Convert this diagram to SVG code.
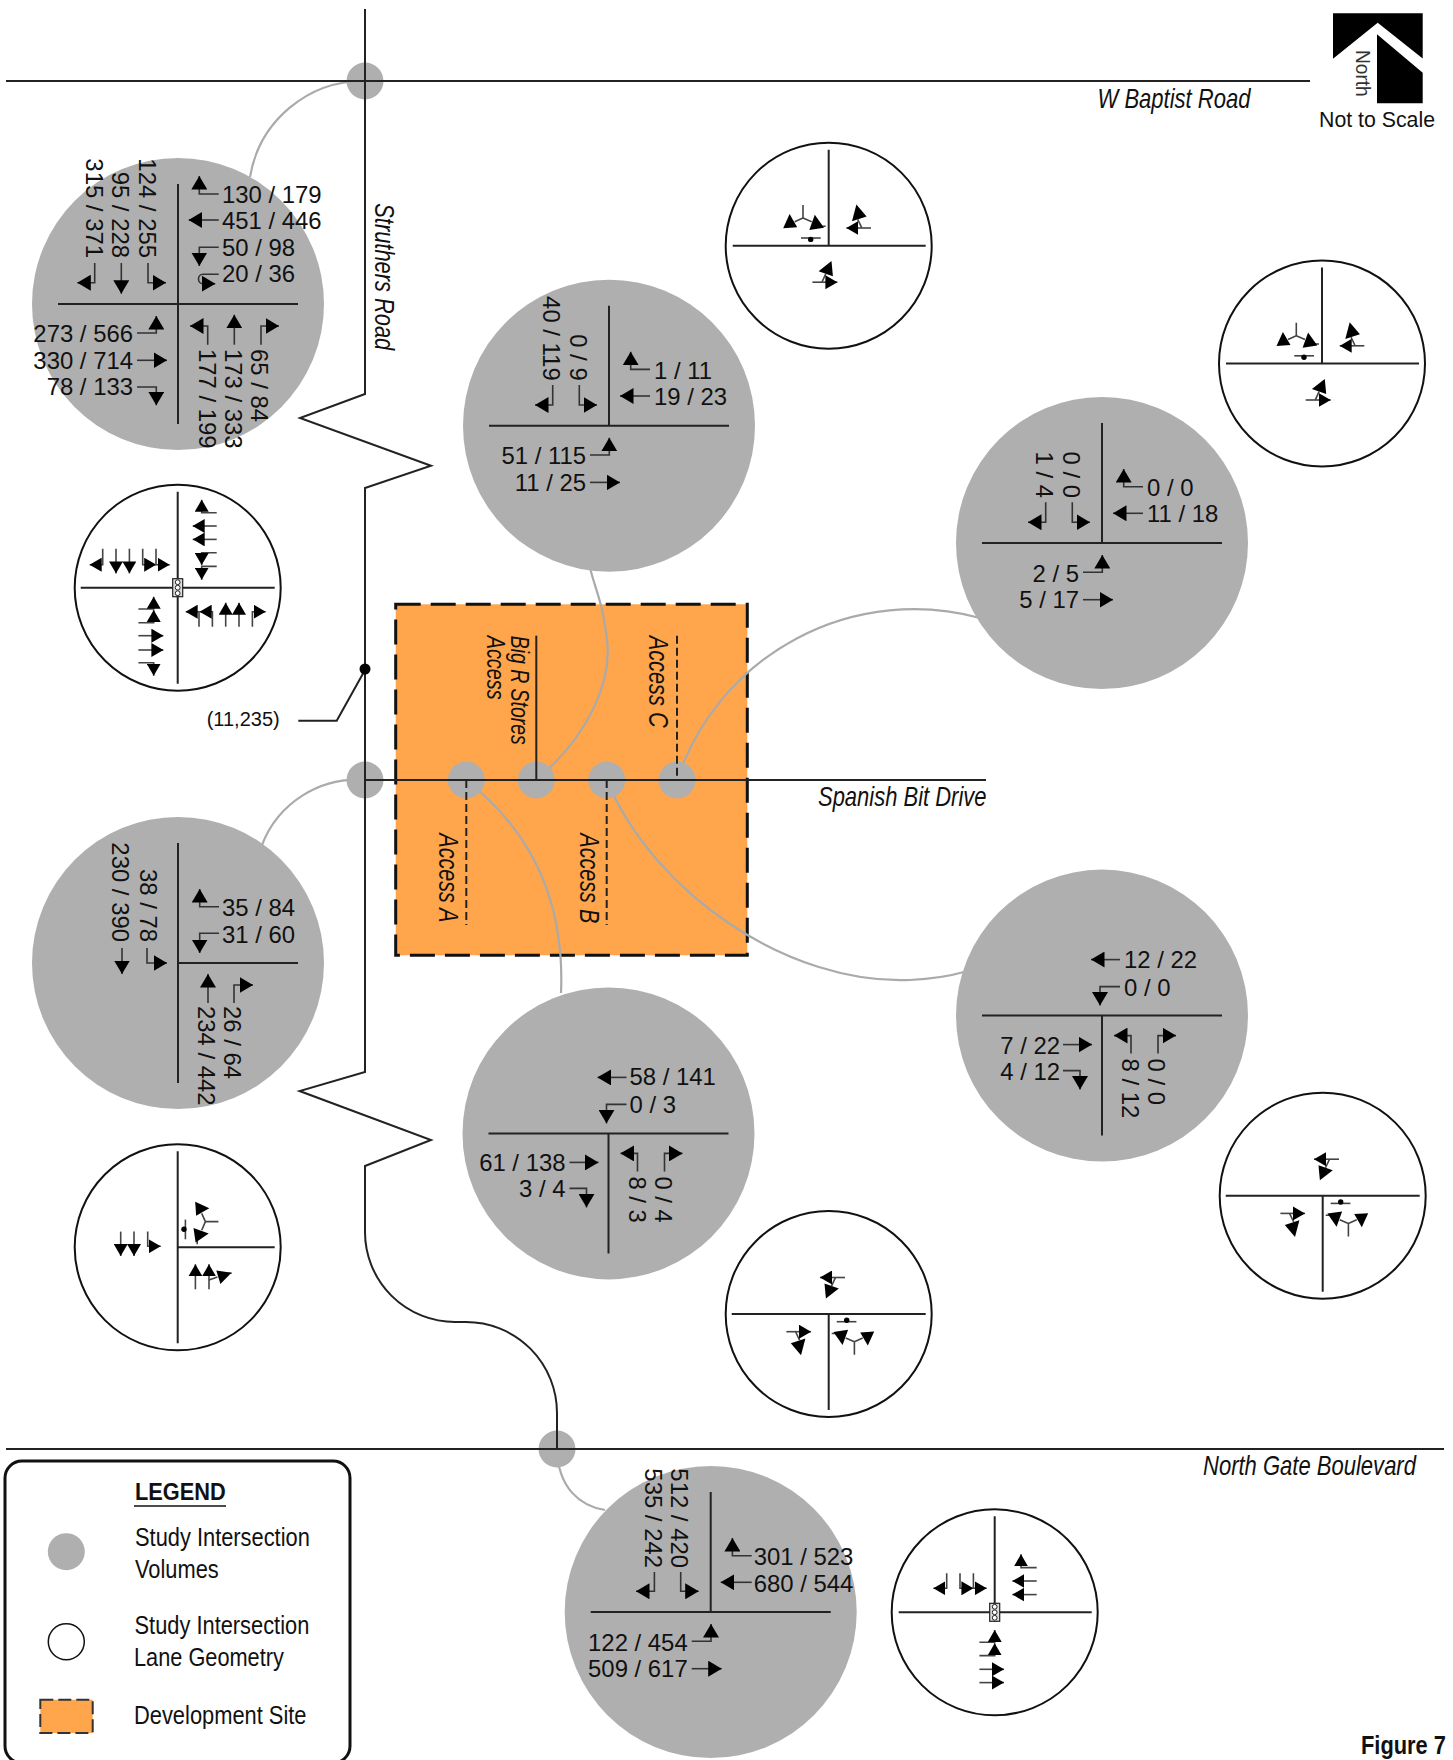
<svg xmlns="http://www.w3.org/2000/svg" width="1453" height="1760" viewBox="0 0 1453 1760">
<style>
text{font-family:"Liberation Sans",Arial,sans-serif;fill:#111}
.v{font-size:23.9px}
.e{text-anchor:end}
.it{font-style:italic;font-size:27px}
.lg{font-size:25px}
.road{fill:none;stroke:#222;stroke-width:2}
.lead{fill:none;stroke:#aaa;stroke-width:2.2}
.dot{fill:#afafaf}
.big{fill:#afafaf}
.cross{fill:none;stroke:#222;stroke-width:2}
.a{fill:none;stroke:#333;stroke-width:1.6;marker-end:url(#ah)}
.b{fill:none;stroke:#444;stroke-width:1.6;marker-end:url(#as)}
.w{fill:#fff;stroke:#111;stroke-width:2}
.t{fill:#000;stroke:none}
.thin{fill:none;stroke:#444;stroke-width:1.6}
</style>
<defs>
<marker id="ah" markerUnits="userSpaceOnUse" markerWidth="13.5" markerHeight="16" refX="13.5" refY="8" orient="auto" viewBox="0 0 13.5 16"><path d="M0 0L13.5 8L0 16z" fill="#000"/></marker>
<marker id="as" markerUnits="userSpaceOnUse" markerWidth="12" markerHeight="14" refX="12" refY="7" orient="auto" viewBox="0 0 12 14"><path d="M0 0L12 7L0 14z" fill="#000"/></marker>
<g id="sig"><rect x="-5" y="-9" width="10" height="18" fill="#ddd" stroke="#222" stroke-width="1.2"/><circle cy="-5.5" r="2.4" fill="#fff" stroke="#222"/><circle r="2.4" fill="#fff" stroke="#222"/><circle cy="5.5" r="2.4" fill="#fff" stroke="#222"/></g>
<g id="yshape">
<path class="thin" d="M-25.7,-40.7V-27.7L-34,-24M-25.7,-27.7L-17,-24M-10,-19.5H-3"/>
<polygon class="t" points="-39.1,-31.6 -45.5,-17.5 -31.5,-18.4"/>
<polygon class="t" points="-13.9,-31 -19.4,-15.8 -4.7,-17.9"/>
<path class="thin" d="M-27.7,-7.7H-8"/><circle cx="-18" cy="-6.3" r="2.7" fill="#000"/>
</g>
<g id="eastpair">
<polygon class="t" points="27.7,-41.3 37.9,-29.3 23.3,-24.5"/><path class="thin" d="M29,-26.3L33,-18"/>
<path class="b" d="M42.3,-17.7H17.7"/>
<polygon class="t" points="2.8,15.4 -10.1,25.5 4.2,30.5"/><path class="thin" d="M-2.7,27.7L-6.7,36.3"/>
<path class="b" d="M-16.3,36.5H8.7"/>
</g>
</defs>

<g id="site"><rect x="395.7" y="604.3" width="351.6" height="351" fill="#ffa54c" stroke="#111" stroke-width="3" stroke-dasharray="25 10"/></g>

<g id="connectors">
<path class="lead" d="M365,81A115,115 0 0 0 250,177"/>
<path class="lead" d="M365,780A102,102 0 0 0 262,845"/>
<path class="lead" d="M536,780C590,735 612,680 607,640S597,595 590,568"/>
<path class="lead" d="M677,780A250,250 0 0 1 980,618"/>
<path class="lead" d="M606.7,780C655,895 790,985 910,980C930,979 950,976 964,972"/>
<path class="lead" d="M466,780C530,830 565,900 561,993"/>
<path class="lead" d="M557,1449C558,1488 580,1506 605,1510"/>
</g>

<g id="roads">
<circle class="dot" cx="365" cy="81" r="18.5"/>
<circle class="dot" cx="365" cy="780" r="18.5"/>
<circle class="dot" cx="466.3" cy="780" r="18.5"/>
<circle class="dot" cx="536.3" cy="780" r="18.5"/>
<circle class="dot" cx="606.7" cy="780" r="18.5"/>
<circle class="dot" cx="677" cy="780" r="18.5"/>
<circle class="dot" cx="557" cy="1449" r="18.5"/>
<path class="road" d="M6,81H1310"/>
<path class="road" d="M6,1449H1444"/>
<path class="road" d="M365,780H986"/>
<path class="road" d="M365,9V394L300,418L431,465.7L365,488V1072L299.6,1091L431,1140L365,1166V1232A90,90 0 0 0 455,1322H466A91,91 0 0 1 557,1413V1449"/>
<path class="road" d="M536.3,635.7V780"/>
<path class="road" stroke-dasharray="8 4" d="M677,635.7V780"/>
<path class="road" stroke-dasharray="8 4" d="M466.3,780V925"/>
<path class="road" stroke-dasharray="8 4" d="M606.7,780V925"/>
<path class="road" d="M298.3,720.7H336.7L365,670"/>
<circle cx="365" cy="669" r="5.5" fill="#000"/>
<text x="206.7" y="726" font-size="20">(11,235)</text>
<text class="it" transform="translate(1097.5,107.7) scale(.816,1)">W Baptist Road</text>
<text class="it" transform="translate(1203,1475) scale(.816,1)">North Gate Boulevard</text>
<text class="it" transform="translate(818,806) scale(.814,1)">Spanish Bit Drive</text>
<text class="it" transform="translate(375,203.3) rotate(90) scale(.81,1)">Struthers Road</text>
<text class="it" transform="translate(439.3,833.3) rotate(90) scale(.8,1)">Access A</text>
<text class="it" transform="translate(580,833.3) rotate(90) scale(.8,1)">Access B</text>
<text class="it" transform="translate(649.3,635.7) rotate(90) scale(.807,1)">Access C</text>
<text class="it" transform="translate(510.7,635.7) rotate(90) scale(.777,1)" style="font-size:25px">Big R Stores</text>
<text class="it" transform="translate(487,635.7) rotate(90) scale(.794,1)" style="font-size:25px">Access</text>
</g>

<g id="north">
<polygon class="t" points="1333,13.3 1422.7,13.3 1422.7,58.5 1377.7,22.7 1333,58.7"/>
<polygon class="t" points="1377,34.3 1422.7,72.7 1422.7,103.3 1377,103.3"/>
<text transform="translate(1355.7,50) rotate(90)" font-size="21" textLength="46.7" lengthAdjust="spacingAndGlyphs" style="fill:#333">North</text>
<text x="1319" y="126.7" font-size="21.3">Not to Scale</text>
</g>

<g id="volA" transform="translate(178,304)">
<circle class="big" r="146"/>
<path class="cross" d="M-120,0H120M0,-120V120"/>
<text class="v" x="44" y="-101">130 / 179</text><path class="a" d="M40.7,-110H21.3V-128"/>
<text class="v" x="44" y="-74.7">451 / 446</text><path class="a" d="M40.7,-84H10.7"/>
<text class="v" x="44" y="-48">50 / 98</text><path class="a" d="M40.7,-56.7H21.3V-38"/>
<text class="v" x="44" y="-22">20 / 36</text><path class="a" d="M40.7,-29.7H25C19,-29.7 19,-20.3 25,-20.3H37.3"/>
<text class="v e" transform="translate(-39.3,-46) rotate(90)">124 / 255</text><path class="a" d="M-30,-41V-21.3H-12"/>
<text class="v e" transform="translate(-66,-46) rotate(90)">95 / 228</text><path class="a" d="M-56.7,-41V-10.3"/>
<text class="v e" transform="translate(-91.7,-46) rotate(90)">315 / 371</text><path class="a" d="M-83.3,-41V-21.3H-100.7"/>
<text class="v e" x="-45" y="38">273 / 566</text><path class="a" d="M-41,29H-21.7V12"/>
<text class="v e" x="-45" y="64.7">330 / 714</text><path class="a" d="M-41,56.3H-11"/>
<text class="v e" x="-45" y="90.7">78 / 133</text><path class="a" d="M-41,83H-21.7V101.3"/>
<text class="v" transform="translate(21.3,45) rotate(90)">177 / 199</text><path class="a" d="M29.7,40.7V22H12"/>
<text class="v" transform="translate(47.3,45) rotate(90)">173 / 333</text><path class="a" d="M56.3,40.7V10.7"/>
<text class="v" transform="translate(73,45) rotate(90)">65 / 84</text><path class="a" d="M83,40.7V22H101"/>
</g>

<g id="volB" transform="translate(609,425.7)">
<circle class="big" r="146"/>
<path class="cross" d="M-120,0H120M0,-120V0"/>
<text class="v" x="45" y="-46.7">1 / 11</text><path class="a" d="M41,-56.3H21.7V-74"/>
<text class="v" x="45" y="-20.7">19 / 23</text><path class="a" d="M41,-29.7H11"/>
<text class="v e" transform="translate(-39,-45) rotate(90)">0 / 9</text><path class="a" d="M-29.7,-40.7V-20.7H-12"/>
<text class="v e" transform="translate(-65.7,-45) rotate(90)">40 / 119</text><path class="a" d="M-56.3,-40.7V-20.7H-74"/>
<text class="v e" x="-23" y="38.7">51 / 115</text><path class="a" d="M-19,29.3H0.3V12"/>
<text class="v e" x="-23" y="65">11 / 25</text><path class="a" d="M-19,56.7H11"/>
</g>

<g id="volC" transform="translate(1102,543)">
<circle class="big" r="146"/>
<path class="cross" d="M-120,0H120M0,-120V0"/>
<text class="v" x="45" y="-46.7">0 / 0</text><path class="a" d="M41,-56.3H21.7V-74"/>
<text class="v" x="45" y="-20.7">11 / 18</text><path class="a" d="M41,-29.7H11"/>
<text class="v e" transform="translate(-39,-45) rotate(90)">0 / 0</text><path class="a" d="M-29.7,-40.7V-20.7H-12"/>
<text class="v e" transform="translate(-65.7,-45) rotate(90)">1 / 4</text><path class="a" d="M-56.3,-40.7V-20.7H-74"/>
<text class="v e" x="-23" y="38.7">2 / 5</text><path class="a" d="M-19,29.3H0.3V12"/>
<text class="v e" x="-23" y="65">5 / 17</text><path class="a" d="M-19,56.7H11"/>
</g>

<g id="volD" transform="translate(178,963)">
<circle class="big" r="146"/>
<path class="cross" d="M0,0H120M0,-120V120"/>
<text class="v" x="44" y="-47">35 / 84</text><path class="a" d="M41,-56.3H21.7V-74"/>
<text class="v" x="44" y="-20">31 / 60</text><path class="a" d="M41,-29.7H21.7V-10"/>
<text class="v e" transform="translate(-38,-21) rotate(90)">38 / 78</text><path class="a" d="M-31,-15V0H-11"/>
<text class="v e" transform="translate(-66,-21) rotate(90)">230 / 390</text><path class="a" d="M-56,-15V11"/>
<text class="v" transform="translate(20,43) rotate(90)">234 / 442</text><path class="a" d="M30,40V11"/>
<text class="v" transform="translate(46,43) rotate(90)">26 / 64</text><path class="a" d="M56,40V22H75"/>
</g>

<g id="volE" transform="translate(608.5,1133.4)">
<circle class="big" r="146"/>
<path class="cross" d="M-120,0H120M0,0V120"/>
<text class="v" x="21" y="-48">58 / 141</text><path class="a" d="M18,-56H-11"/>
<text class="v" x="21" y="-20">0 / 3</text><path class="a" d="M18,-29H-2V-10"/>
<text class="v e" x="-43" y="38">61 / 138</text><path class="a" d="M-39,29H-10"/>
<text class="v e" x="-43" y="64">3 / 4</text><path class="a" d="M-39,55H-22V74"/>
<text class="v" transform="translate(20,43) rotate(90)">8 / 3</text><path class="a" d="M29,38V20H12"/>
<text class="v" transform="translate(46,43) rotate(90)">0 / 4</text><path class="a" d="M56,38V20H74"/>
</g>

<g id="volF" transform="translate(1102,1015.6)">
<circle class="big" r="146"/>
<path class="cross" d="M-120,0H120M0,0V120"/>
<text class="v" x="22" y="-48">12 / 22</text><path class="a" d="M18,-56H-11"/>
<text class="v" x="22" y="-20">0 / 0</text><path class="a" d="M18,-29H-2V-10"/>
<text class="v e" x="-42" y="38">7 / 22</text><path class="a" d="M-39,29H-10"/>
<text class="v e" x="-42" y="64">4 / 12</text><path class="a" d="M-39,55H-22V74"/>
<text class="v" transform="translate(20,43) rotate(90)">8 / 12</text><path class="a" d="M29,38V20H12"/>
<text class="v" transform="translate(46,43) rotate(90)">0 / 0</text><path class="a" d="M56,38V20H74"/>
</g>

<g id="volG" transform="translate(710.7,1612)">
<circle class="big" r="146"/>
<path class="cross" d="M-120,0H120M0,-120V0"/>
<text class="v" x="43" y="-47">301 / 523</text><path class="a" d="M41,-56.3H21.7V-74"/>
<text class="v" x="43" y="-19.7">680 / 544</text><path class="a" d="M41,-29.7H10"/>
<text class="v e" transform="translate(-40,-44) rotate(90)">512 / 420</text><path class="a" d="M-30,-40V-20.7H-12"/>
<text class="v e" transform="translate(-65.7,-44) rotate(90)">535 / 242</text><path class="a" d="M-56.3,-40V-20.7H-74.7"/>
<text class="v e" x="-23" y="38.7">122 / 454</text><path class="a" d="M-19,29.3H0.3V12"/>
<text class="v e" x="-23" y="65">509 / 617</text><path class="a" d="M-19,56.7H11"/>
</g>

<g id="geo1" transform="translate(177.7,587.7)">
<circle class="w" r="103"/>
<path class="cross" d="M-97,0H97M0,-96V96"/>
<use href="#sig"/>
<path class="b" d="M39,-75H24V-88"/><path class="b" d="M39,-61.7H15"/><path class="b" d="M39,-48.3H15"/><path class="b" d="M39,-35H24V-22.7"/><path class="b" d="M39,-21.3H24V-8"/>
<path class="b" d="M-75,-39V-23H-88"/><path class="b" d="M-61.7,-39V-14.3"/><path class="b" d="M-48.3,-39V-14.3"/><path class="b" d="M-35,-39V-23H-21.5"/><path class="b" d="M-21.7,-39V-23H-8"/>
<path class="b" d="M-39.3,21.3H-24V9"/><path class="b" d="M-39.3,35H-24V22.3"/><path class="b" d="M-39.3,48H-14.3"/><path class="b" d="M-39.3,62.3H-14.3"/><path class="b" d="M-39.3,75H-24V88"/>
<path class="b" d="M21.3,39V24H8"/><path class="b" d="M34.7,39V24H22"/><path class="b" d="M48,39V15"/><path class="b" d="M61.3,39V15"/><path class="b" d="M74.7,39V24H88"/>
</g>

<g id="geo2" transform="translate(828.7,245.7)">
<circle class="w" r="103"/>
<path class="cross" d="M-96,0H97M0,-96V0"/>
<use href="#yshape"/><use href="#eastpair"/>
</g>

<g id="geo3" transform="translate(1322,363.5)">
<circle class="w" r="103"/>
<path class="cross" d="M-96,0H97M0,-96V0"/>
<use href="#yshape"/><use href="#eastpair"/>
</g>

<g id="geo4" transform="translate(177.7,1247.3)">
<circle class="w" r="103"/>
<path class="cross" d="M0,0H97M0,-96V96"/>
<use href="#yshape" transform="rotate(90)"/>
<path class="b" d="M-57,-15.7V8.7"/><path class="b" d="M-43.7,-15.7V8.7"/><path class="b" d="M-30,-15.7V-1H-17"/>
<path class="b" d="M17.7,42V17"/><path class="b" d="M31.3,42V17"/>
<path class="thin" d="M31.3,32.7L39.7,29.7M48,26H54"/>
<polygon class="t" points="38.6,23.1 53.8,25.5 42.7,36.7"/>
</g>

<g id="geo5" transform="translate(1322.7,1195.7)">
<circle class="w" r="103"/>
<path class="cross" d="M-97,0H97M0,0V96"/>
<g transform="rotate(180)"><use href="#yshape"/><use href="#eastpair"/></g>
</g>

<g id="geo6" transform="translate(828.7,1314)">
<circle class="w" r="103"/>
<path class="cross" d="M-97,0H97M0,0V96"/>
<g transform="rotate(180)"><use href="#yshape"/><use href="#eastpair"/></g>
</g>

<g id="geo7" transform="translate(994.7,1612.3)">
<circle class="w" r="103"/>
<path class="cross" d="M-96,0H97M0,-96V0"/>
<use href="#sig"/>
<path class="b" d="M42,-44.7H26.3V-58"/><path class="b" d="M42,-31.3H17.7"/><path class="b" d="M42,-17.7H17.7"/>
<path class="b" d="M-48,-39V-24H-61.3"/><path class="b" d="M-34.7,-39V-24H-21.3"/><path class="b" d="M-21.3,-39V-24H-8"/>
<path class="b" d="M-15.3,30H0V17.7"/><path class="b" d="M-15.3,43.3H0V31"/><path class="b" d="M-15.3,57H9.3"/><path class="b" d="M-15.3,70.3H9.3"/>
</g>

<g id="legend">
<rect x="5" y="1461" width="345" height="302" rx="17" fill="none" stroke="#111" stroke-width="3"/>
<text class="lg" transform="translate(135,1500) scale(.907,1)" font-weight="bold" style="font-size:24px">LEGEND</text>
<path d="M134,1506H226" stroke="#111" stroke-width="1.5"/>
<circle class="dot" cx="66.3" cy="1551.7" r="18.5"/>
<text class="lg" transform="translate(135,1546) scale(.874,1)">Study Intersection</text>
<text class="lg" transform="translate(135,1577.7) scale(.874,1)">Volumes</text>
<circle cx="66.3" cy="1641.7" r="18" fill="#fff" stroke="#111" stroke-width="1.5"/>
<text class="lg" transform="translate(134.5,1634) scale(.874,1)">Study Intersection</text>
<text class="lg" transform="translate(134,1666) scale(.87,1)">Lane Geometry</text>
<rect x="40.3" y="1699.7" width="52.4" height="33.3" fill="#ffa54c" stroke="#333" stroke-width="2" stroke-dasharray="13 5"/>
<text class="lg" transform="translate(134,1724) scale(.875,1)">Development Site</text>
</g>

<text id="figure" class="lg" transform="translate(1361,1754) scale(.874,1)" font-weight="bold">Figure 7</text>
</svg>
